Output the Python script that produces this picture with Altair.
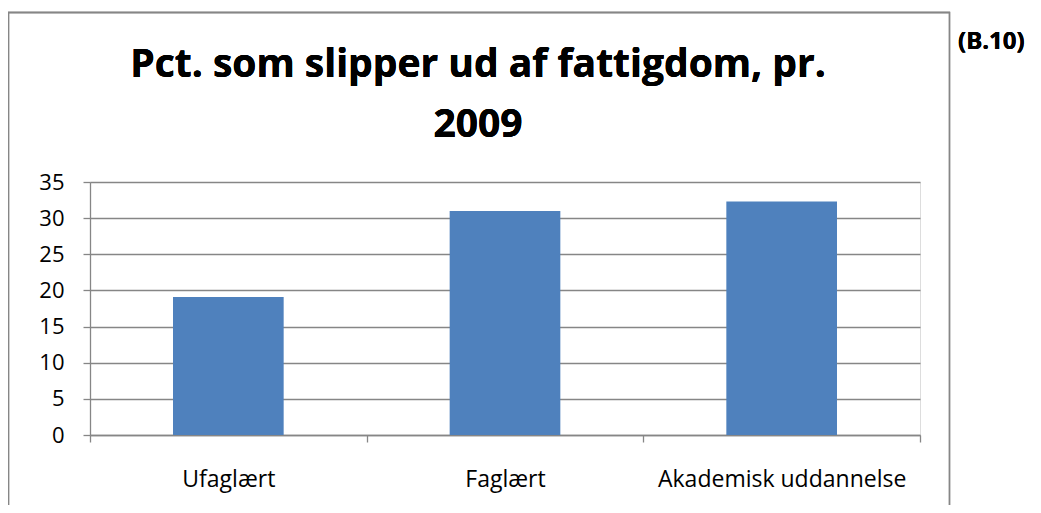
import altair as alt
import pandas as pd

categories = ["Ufaglært", "Faglært", "Akademisk uddannelse"]
values = [19.1, 31.0, 32.3]
title_lines = ["Pct. som slipper ud af fattigdom, pr.", "2009"]
tag = "(B.10)"

df = pd.DataFrame({"cat": categories, "val": values})

FONT = "Open Sans"
GRAY = "#868686"

W, H = 830, 253

x_enc = alt.X("cat:N", sort=categories, title=None,
              scale=alt.Scale(paddingInner=0, paddingOuter=0),
              axis=alt.Axis(labelAngle=0, labelFont=FONT, labelFontSize=23, labelColor="#000000",
                            labelPadding=26, labelLimit=500, tickBand="extent", tickSize=7, tickColor=GRAY,
                            tickWidth=1.3, domainColor=GRAY, domainWidth=1.3, grid=False))
y_enc = alt.Y("val:Q", title=None,
              scale=alt.Scale(domain=[0, 35], nice=False),
              axis=alt.Axis(values=[0, 5, 10, 15, 20, 25, 30, 35], labelFont=FONT, labelFontSize=22,
                            labelColor="#000000", labelPadding=19, tickSize=7, tickColor=GRAY,
                            tickWidth=1.3, domainColor=GRAY, domainWidth=1.3,
                            gridColor=GRAY, gridWidth=1.3))

bars = alt.Chart(df).mark_bar(color="#4F81BD", width=alt.RelativeBandSize(0.4)).encode(x=x_enc, y=y_enc)

box = alt.Chart(df).mark_rect(fill=None, stroke=GRAY, strokeWidth=1.3).encode(
    x=alt.value(-81.5), x2=alt.value(859.5), y=alt.value(-169.5), y2=alt.value(345))

title1 = alt.Chart(df).mark_text(text=title_lines[0], font=FONT, fontSize=39, fontWeight="bold",
                                 align="center", baseline="alphabetic", color="#000000").encode(
    x=alt.value(388), y=alt.value(-105))
title2 = alt.Chart(df).mark_text(text=title_lines[1], font=FONT, fontSize=39, fontWeight="bold",
                                 align="center", baseline="alphabetic", color="#000000").encode(
    x=alt.value(388), y=alt.value(-45))
tagt = alt.Chart(df).mark_text(text=tag, font=FONT, fontSize=24, fontWeight="bold",
                               align="left", baseline="alphabetic", color="#000000").encode(
    x=alt.value(868), y=alt.value(-133))

chart = alt.layer(box, bars, title1, title2, tagt).properties(
    width=W, height=H,
    autosize=alt.AutoSizeParams(type="none"),
    padding={"left": 82, "top": 174, "right": 113, "bottom": 70},
).configure_view(stroke=None).configure(background="white")

chart.save("out.html", embed_options={"renderer": "svg", "actions": False})
